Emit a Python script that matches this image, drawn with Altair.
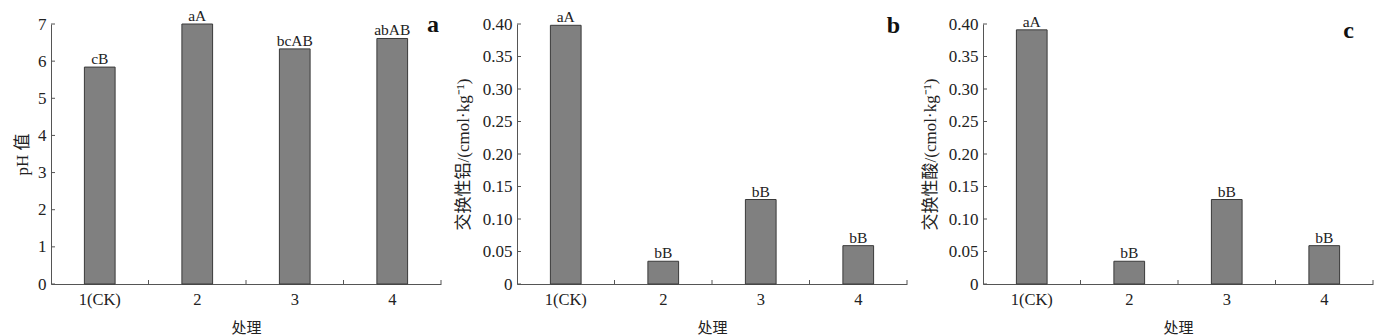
import altair as alt
import pandas as pd

cats = ["1(CK)", "2", "3", "4"]
ph = [5.84, 7.00, 6.33, 6.61]
ph_sig = ["cB", "aA", "bcAB", "abAB"]
al = [0.398, 0.035, 0.130, 0.059]
al_sig = ["aA", "bB", "bB", "bB"]
acid = [0.391, 0.035, 0.130, 0.059]
acid_sig = ["aA", "bB", "bB", "bB"]

ph_ticks = [0, 1, 2, 3, 4, 5, 6, 7]
ex_ticks = [0, 0.05, 0.10, 0.15, 0.20, 0.25, 0.30, 0.35, 0.40]

SERIF = "Liberation Serif, Noto Sans CJK SC"
AXC = "#555555"
W, H = 390, 260


def panel(values, sigs, ticks, ymax, ytitle, letter, title_x, letter_dx, fmt):
    df = pd.DataFrame({"cat": cats, "v": values, "sig": sigs})
    tdf = pd.DataFrame({"t": ticks})
    xs = alt.Scale(domain=cats, paddingInner=0, paddingOuter=0)
    ys = alt.Scale(domain=[0, ymax], nice=False, zero=True)
    label_expr = "datum.value == 0 ? '0' : format(datum.value, '%s')" % fmt
    xax = alt.Axis(
        title="处理", labelAngle=0, ticks=False, tickSize=0, domainColor=AXC,
        labelFont=SERIF, labelFontSize=16.5, labelColor="#222", labelPadding=7,
        titleFont=SERIF, titleFontSize=15, titleFontWeight="normal", titleColor="#222",
        titleY=43, titleBaseline="middle", grid=False,
    )
    yax = alt.Axis(
        title=ytitle, values=ticks, ticks=False, tickSize=0, domainColor=AXC,
        labelFont=SERIF, labelFontSize=17, labelColor="#222", labelPadding=5,
        labelExpr=label_expr, labelOverlap=False,
        titleFont=SERIF, titleFontSize=17, titleFontWeight="normal", titleColor="#222",
        titleX=title_x, titleY=H / 2, titleBaseline="middle", titleAngle=270, grid=False,
    )
    bars = alt.Chart(df).mark_bar(
        fill="#808080", stroke="#3a3a3a", strokeWidth=1,
        width=alt.RelativeBandSize(0.315),
    ).encode(
        x=alt.X("cat:N", scale=xs, axis=xax, sort=cats),
        y=alt.Y("v:Q", scale=ys, axis=yax),
    )
    text = alt.Chart(df).mark_text(
        font=SERIF, fontSize=15.5, baseline="alphabetic", dy=-3, color="#222",
    ).encode(
        x=alt.X("cat:N", scale=xs, axis=xax, sort=cats),
        y=alt.Y("v:Q", scale=ys, axis=yax),
        text="sig:N",
    )
    yt = alt.Chart(tdf).mark_rule(color=AXC, strokeWidth=1).encode(
        y=alt.Y("t:Q", scale=ys, axis=yax), x=alt.value(0), x2=alt.value(4),
    )
    xt = alt.Chart(df).mark_rule(color=AXC, strokeWidth=1).encode(
        x=alt.X("cat:N", scale=xs, axis=xax, sort=cats, bandPosition=1),
        y=alt.value(H - 4), y2=alt.value(H),
    )
    return alt.layer(bars, text, yt, xt).properties(
        width=W, height=H,
        title=alt.TitleParams(
            letter, anchor="end", frame="group", font=SERIF, fontSize=24,
            fontWeight="bold", color="#111", dx=letter_dx, dy=32,
        ),
    )


a = panel(ph, ph_sig, ph_ticks, 7, "pH 值", "a", -29, -2, ".0f")
b = panel(al, al_sig, ex_ticks, 0.4, "交换性铝/(cmol·kg⁻¹)", "b", -54, -7, ".2f")
c = panel(acid, acid_sig, ex_ticks, 0.4, "交换性酸/(cmol·kg⁻¹)", "c", -53, -19, ".2f")

chart = alt.hconcat(a, b, c, spacing=76, bounds="flush").properties(
    padding={"left": 13, "top": 9, "right": 0, "bottom": 0},
    background="white",
).configure_view(stroke=None)

chart.save("out.html", embed_options={"renderer": "svg", "actions": False})
